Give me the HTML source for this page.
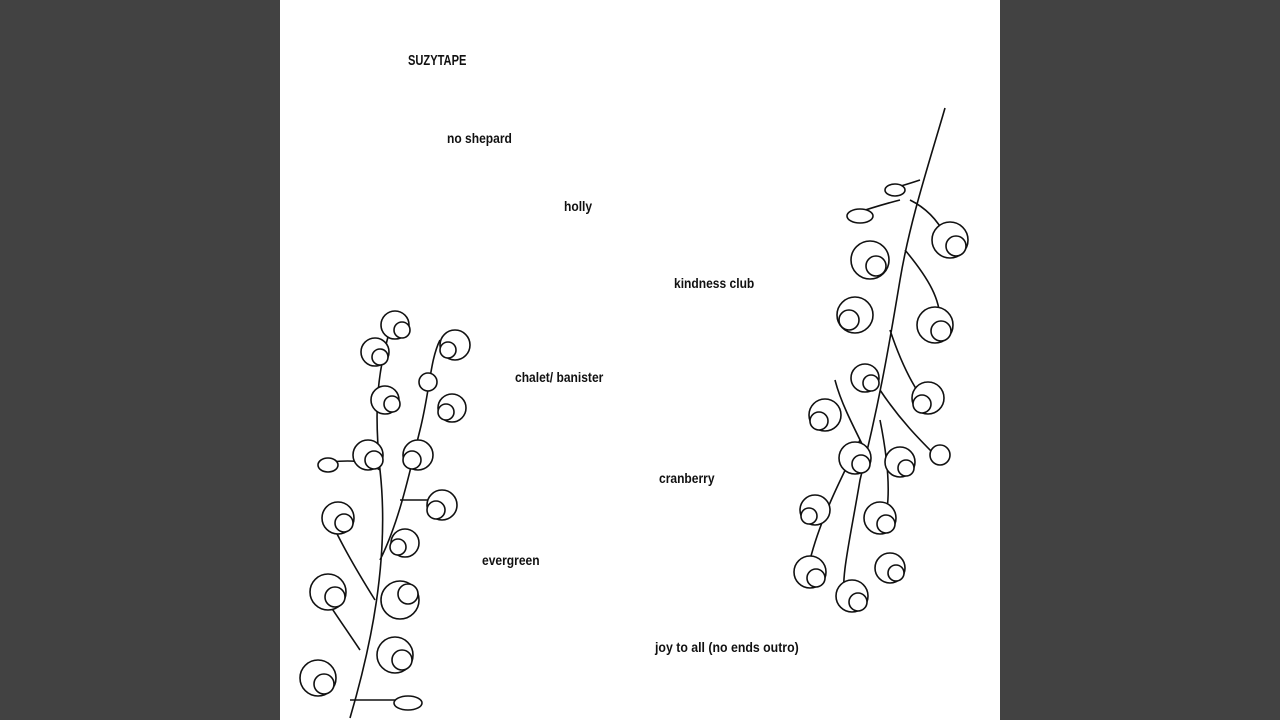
<!DOCTYPE html>
<html><head><style>
body{margin:0;width:1280px;height:720px;background:#424242;overflow:hidden;position:relative}
#p{position:absolute;left:280px;top:0;width:720px;height:720px;background:#fff}
.t{position:absolute;font-family:"Liberation Sans",sans-serif;font-weight:bold;font-size:14px;color:#111;white-space:nowrap;transform:scaleX(.86);transform-origin:left top}
svg{position:absolute;left:0;top:0}
</style></head><body>
<div id="p">
<div class="t" style="left:128px;top:52px;font-size:15px;transform:scaleX(.74)">SUZYTAPE</div>
<div class="t" style="left:167px;top:130px">no shepard</div>
<div class="t" style="left:284px;top:198px">holly</div>
<div class="t" style="left:394px;top:275px">kindness club</div>
<div class="t" style="left:235px;top:369px">chalet/ banister</div>
<div class="t" style="left:379px;top:470px">cranberry</div>
<div class="t" style="left:202px;top:552px">evergreen</div>
<div class="t" style="left:375px;top:639px;transform:scaleX(.88)">joy to all (no ends outro)</div>
<svg width="720" height="720" fill="none" stroke="#111" stroke-width="1.6">
<path d="M70 718 C90 650 110 560 100 470 C95 420 95 380 110 330 M100 560 C120 520 130 470 140 430 C150 390 150 360 160 340 M80 650 C60 620 45 600 35 580 M95 600 C70 560 60 540 50 520 M100 470 C85 460 70 460 50 462 M120 500 C140 500 150 500 165 500 M70 700 C100 700 120 700 140 700"/>
<g fill="#fff">
<circle cx="115" cy="325" r="14"/><circle cx="95" cy="352" r="14"/><circle cx="175" cy="345" r="15"/>
<circle cx="105" cy="400" r="14"/><circle cx="172" cy="408" r="14"/><circle cx="88" cy="455" r="15"/>
<circle cx="138" cy="455" r="15"/><circle cx="162" cy="505" r="15"/><circle cx="58" cy="518" r="16"/>
<circle cx="125" cy="543" r="14"/><circle cx="48" cy="592" r="18"/><circle cx="120" cy="600" r="19"/>
<circle cx="115" cy="655" r="18"/><circle cx="38" cy="678" r="18"/><circle cx="148" cy="382" r="9"/>
<ellipse cx="48" cy="465" rx="10" ry="7"/><ellipse cx="128" cy="703" rx="14" ry="7"/>
</g>
<g fill="#fff">
<circle cx="122" cy="330" r="8"/><circle cx="100" cy="357" r="8"/><circle cx="168" cy="350" r="8"/>
<circle cx="112" cy="404" r="8"/><circle cx="166" cy="412" r="8"/><circle cx="94" cy="460" r="9"/>
<circle cx="132" cy="460" r="9"/><circle cx="156" cy="510" r="9"/><circle cx="64" cy="523" r="9"/>
<circle cx="118" cy="547" r="8"/><circle cx="55" cy="597" r="10"/><circle cx="128" cy="594" r="10"/>
<circle cx="122" cy="660" r="10"/><circle cx="44" cy="684" r="10"/>
</g>
<path d="M665 108 C650 160 630 220 620 280 C610 340 600 400 580 480 C570 540 560 580 565 600 M630 200 C650 210 660 225 665 235 M625 250 C650 280 660 300 660 320 M610 330 C620 360 630 380 640 395 M600 390 C620 420 640 440 655 455 M600 420 C610 470 610 500 605 520 M580 440 C560 480 540 520 530 560 M590 460 C570 420 560 400 555 380 M620 200 C600 205 585 210 570 215 M640 180 C625 185 615 188 605 190"/>
<g fill="#fff">
<circle cx="670" cy="240" r="18"/><circle cx="590" cy="260" r="19"/><circle cx="575" cy="315" r="18"/>
<circle cx="655" cy="325" r="18"/><circle cx="585" cy="378" r="14"/><circle cx="648" cy="398" r="16"/>
<circle cx="545" cy="415" r="16"/><circle cx="575" cy="458" r="16"/><circle cx="620" cy="462" r="15"/>
<circle cx="600" cy="518" r="16"/><circle cx="535" cy="510" r="15"/><circle cx="530" cy="572" r="16"/>
<circle cx="610" cy="568" r="15"/><circle cx="572" cy="596" r="16"/>
<ellipse cx="580" cy="216" rx="13" ry="7"/><ellipse cx="615" cy="190" rx="10" ry="6"/><ellipse cx="660" cy="455" rx="10" ry="10"/>
</g>
<g fill="#fff">
<circle cx="676" cy="246" r="10"/><circle cx="596" cy="266" r="10"/><circle cx="569" cy="320" r="10"/>
<circle cx="661" cy="331" r="10"/><circle cx="591" cy="383" r="8"/><circle cx="642" cy="404" r="9"/>
<circle cx="539" cy="421" r="9"/><circle cx="581" cy="464" r="9"/><circle cx="626" cy="468" r="8"/>
<circle cx="606" cy="524" r="9"/><circle cx="529" cy="516" r="8"/><circle cx="536" cy="578" r="9"/>
<circle cx="616" cy="573" r="8"/><circle cx="578" cy="602" r="9"/>
</g>
</svg>
</div>
</body></html>
